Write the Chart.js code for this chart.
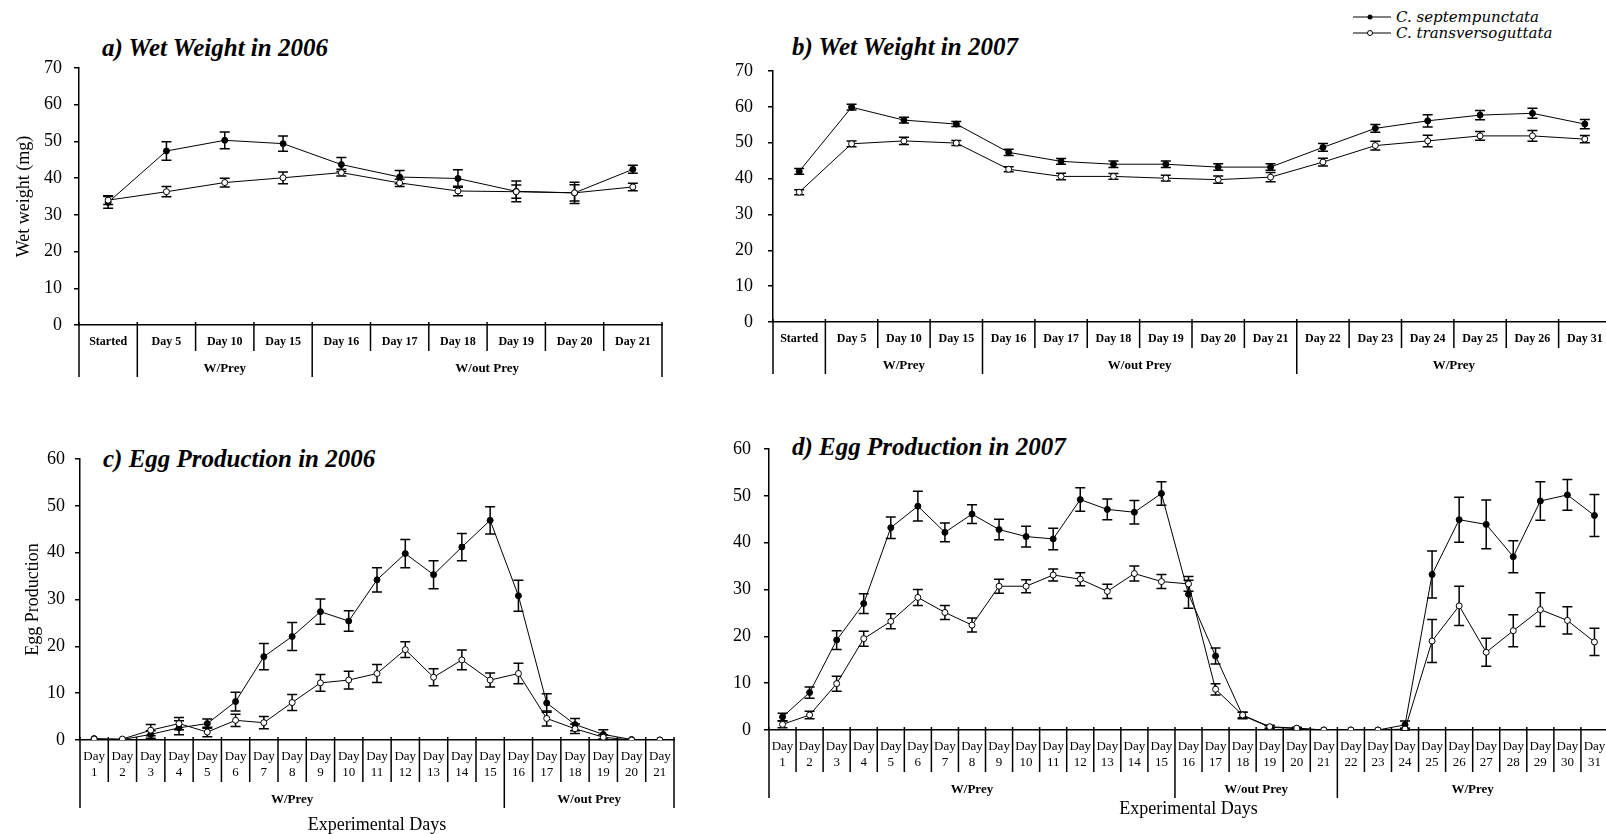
<!DOCTYPE html>
<html>
<head>
<meta charset="utf-8">
<script src="https://cdn.jsdelivr.net/npm/chart.js@4/dist/chart.umd.min.js"></script>
<style>
html, body { margin: 0; padding: 0; background: #fff; overflow: hidden; width: 1606px; height: 834px; }
canvas { position: absolute; }
.title { position: absolute; font: italic bold 25px "Liberation Serif", serif; line-height: 25px; color: #000; white-space: nowrap; }
.leg { position: absolute; left: 1353px; display: flex; align-items: center; gap: 5px; font: italic 15px "DejaVu Serif", serif; line-height: 16px; color: #000; white-space: nowrap; }
.leg svg { display: block; }
</style>
</head>
<body>

<div class="title" style="left:102px;top:35px">a) Wet Weight in 2006</div>
<div class="title" style="left:792px;top:34px">b) Wet Weight in 2007</div>
<div class="title" style="left:103px;top:446px">c) Egg Production in 2006</div>
<div class="title" style="left:792px;top:434px">d) Egg Production in 2007</div>

<div class="leg" style="top:9px">
  <svg width="38" height="10"><line x1="0" y1="5" x2="38" y2="5" stroke="#000" stroke-width="1.2"/><circle cx="17" cy="5" r="2.5" fill="#000"/></svg>
  <span>C. septempunctata</span>
</div>
<div class="leg" style="top:25px">
  <svg width="38" height="10"><line x1="0" y1="5" x2="38" y2="5" stroke="#000" stroke-width="1.2"/><circle cx="17" cy="5" r="2.5" fill="#fff" stroke="#000" stroke-width="1"/></svg>
  <span>C. transversoguttata</span>
</div>

<canvas id="chartA" width="700" height="400" style="left:0;top:0"></canvas>
<canvas id="chartB" width="920" height="400" style="left:700px;top:0"></canvas>
<canvas id="chartC" width="700" height="434" style="left:0;top:400px"></canvas>
<canvas id="chartD" width="920" height="434" style="left:700px;top:400px"></canvas>

<script>
// a) wet weight 2006
const catsA = ['Started', 'Day 5', 'Day 10', 'Day 15', 'Day 16', 'Day 17', 'Day 18', 'Day 19', 'Day 20', 'Day 21'];
const sepA = [33.4, 47.4, 50.3, 49.4, 43.7, 40.3, 39.9, 36.4, 36.0, 42.4];
const sepAErr = [1.6, 2.5, 2.3, 2.1, 1.9, 1.8, 2.4, 2.8, 2.9, 1.1];
const traA = [34.0, 36.3, 38.8, 40.1, 41.5, 38.7, 36.5, 36.3, 36.0, 37.6];
const traAErr = [1.2, 1.4, 1.2, 1.6, 0.9, 1.0, 1.3, 1.8, 2.2, 1.0];
const groupsA = [['', 0, 0], ['W/Prey', 1, 3], ['W/out Prey', 4, 9]];

// b) wet weight 2007
const catsB = ['Started', 'Day 5', 'Day 10', 'Day 15', 'Day 16', 'Day 17', 'Day 18', 'Day 19', 'Day 20', 'Day 21', 'Day 22', 'Day 23', 'Day 24', 'Day 25', 'Day 26', 'Day 31'];
const sepB = [42.0, 59.9, 56.3, 55.2, 47.3, 44.8, 44.0, 44.0, 43.2, 43.2, 48.7, 54.0, 56.1, 57.7, 58.2, 55.2];
const sepBErr = [0.8, 0.8, 0.8, 0.7, 0.9, 0.8, 0.9, 0.9, 0.9, 0.9, 1.1, 1.1, 1.7, 1.3, 1.4, 1.3];
const traB = [36.2, 49.7, 50.5, 49.9, 42.6, 40.6, 40.6, 40.1, 39.7, 40.4, 44.6, 49.2, 50.5, 51.9, 51.9, 51.0];
const traBErr = [0.7, 0.8, 1.0, 0.7, 0.7, 0.9, 0.8, 0.8, 1.0, 1.3, 1.1, 1.2, 1.6, 1.2, 1.5, 1.0];
const groupsB = [['', 0, 0], ['W/Prey', 1, 3], ['W/out Prey', 4, 9], ['W/Prey', 10, 15]];

// c) egg production 2006
const daysC = ['1', '2', '3', '4', '5', '6', '7', '8', '9', '10', '11', '12', '13', '14', '15', '16', '17', '18', '19', '20', '21'];
const sepC = [0.3, 0.1, 1.2, 2.6, 3.5, 8.2, 17.8, 22.1, 27.4, 25.4, 34.2, 39.8, 35.3, 41.2, 46.9, 30.8, 7.9, 3.3, 1.2, 0.1, 0];
const sepCErr = [0, 0, 0.8, 1.5, 1.0, 2.0, 2.8, 3.0, 2.7, 2.2, 2.6, 3.0, 3.0, 2.9, 2.9, 3.3, 2.0, 1.3, 1.0, 0, 0];
const traC = [0.2, 0.2, 2.1, 3.5, 1.7, 4.2, 3.7, 8.0, 12.2, 12.8, 14.2, 19.3, 13.4, 17.1, 12.8, 14.2, 4.6, 2.4, 0.6, 0, 0];
const traCErr = [0, 0, 1.2, 1.3, 1.0, 1.3, 1.3, 1.7, 1.8, 1.9, 1.9, 1.7, 1.8, 2.1, 1.5, 2.2, 1.6, 1.0, 0.5, 0, 0];
const groupsC = [['W/Prey', 0, 14], ['W/out Prey', 15, 20]];

// d) egg production 2007
const daysD = ['1', '2', '3', '4', '5', '6', '7', '8', '9', '10', '11', '12', '13', '14', '15', '16', '17', '18', '19', '20', '21', '22', '23', '24', '25', '26', '27', '28', '29', '30', '31'];
const sepD = [2.8, 8.0, 19.2, 27.0, 43.2, 47.8, 42.2, 46.1, 42.8, 41.3, 40.8, 49.2, 47.1, 46.5, 50.5, 29.0, 15.8, 3.1, 0.6, 0.3, 0, 0, 0, 1.1, 33.2, 44.9, 43.9, 37.0, 48.9, 50.2, 45.8];
const sepDErr = [0.8, 1.2, 2.0, 2.1, 2.3, 3.2, 2.0, 2.0, 2.2, 2.2, 2.3, 2.5, 2.2, 2.5, 2.5, 3.0, 1.7, 0.7, 0.3, 0.2, 0, 0, 0, 0.8, 5.0, 4.8, 5.2, 3.4, 4.1, 3.3, 4.5];
const traD = [1.2, 3.2, 9.9, 19.5, 23.2, 28.3, 25.1, 22.4, 30.7, 30.7, 33.1, 32.2, 29.6, 33.4, 31.7, 31.2, 8.7, 3.2, 0.7, 0.4, 0, 0, 0, 0.2, 19.0, 26.5, 16.6, 21.2, 25.7, 23.4, 18.8];
const traDErr = [0.7, 0.8, 1.6, 1.6, 1.6, 1.7, 1.5, 1.5, 1.5, 1.4, 1.3, 1.4, 1.5, 1.6, 1.5, 1.6, 1.2, 0.6, 0.3, 0.2, 0, 0, 0, 0.2, 4.6, 4.2, 3.0, 3.4, 3.6, 2.9, 2.9];
const groupsD = [['W/Prey', 0, 14], ['W/out Prey', 15, 20], ['W/Prey', 21, 30]];

const SERIF = '"Liberation Serif", "Times New Roman", serif';

// vertical error bars drawn under the markers
const errorBars = {
    id: 'errorBars',
    beforeDatasetsDraw(chart) {
        const ctx = chart.ctx, x = chart.scales.x, y = chart.scales.y;
        ctx.save();
        ctx.strokeStyle = '#000';
        ctx.lineWidth = 1.5;
        chart.data.datasets.forEach(ds => {
            if (!ds.errors) return;
            ds.data.forEach((v, i) => {
                const e = ds.errors[i];
                if (!e) return;
                const px = x.getPixelForValue(i);
                const top = y.getPixelForValue(v + e);
                const bot = y.getPixelForValue(Math.max(v - e, 0));
                ctx.beginPath();
                ctx.moveTo(px, top); ctx.lineTo(px, bot);
                ctx.moveTo(px - 5, top); ctx.lineTo(px + 5, top);
                ctx.moveTo(px - 5, bot); ctx.lineTo(px + 5, bot);
                ctx.stroke();
            });
        });
        ctx.restore();
    }
};

// Excel-style category table under the x axis
const catTable = {
    id: 'catTable',
    afterDraw(chart, args, o) {
        const ctx = chart.ctx, x = chart.scales.x;
        const y0 = chart.scales.y.getPixelForValue(0);
        const n = chart.data.labels.length;
        const half = (x.getPixelForValue(1) - x.getPixelForValue(0)) / 2;
        const starts = o.groups.map(g => g[1]);
        ctx.save();
        ctx.strokeStyle = '#000';
        ctx.lineWidth = 1.5;
        for (let i = 0; i <= n; i++) {
            const bx = i < n ? x.getPixelForValue(i) - half : x.getPixelForValue(n - 1) + half;
            const long = i === 0 || i === n || starts.includes(i);
            ctx.beginPath();
            ctx.moveTo(bx, y0 - 3);
            ctx.lineTo(bx, y0 + (long ? o.groupEnd : o.sepEnd));
            ctx.stroke();
        }
        ctx.fillStyle = '#000';
        ctx.textAlign = 'center';
        ctx.textBaseline = 'middle';
        ctx.font = o.catFont;
        chart.data.labels.forEach((lab, i) => {
            const cx = x.getPixelForValue(i);
            if (o.twoLine) {
                ctx.fillText('Day', cx, y0 + o.labY);
                ctx.fillText(lab, cx, y0 + o.labY2);
            } else {
                ctx.fillText(lab, cx, y0 + o.labY);
            }
        });
        ctx.font = o.groupFont;
        o.groups.forEach(g => {
            if (!g[0]) return;
            const cx = (x.getPixelForValue(g[1]) + x.getPixelForValue(g[2])) / 2;
            ctx.fillText(g[0], cx, y0 + o.groupY);
        });
        if (o.title) {
            ctx.font = '18px ' + SERIF;
            const ca = chart.chartArea;
            ctx.fillText(o.title, (ca.left + ca.right) / 2, y0 + o.titleY);
        }
        ctx.restore();
    }
};

function series(label, data, errors, filled) {
    return {
        label: label,
        data: data,
        errors: errors,
        order: filled ? 1 : 0,   // open circles stay visible where both sit at 0
        borderColor: '#000',
        borderWidth: 1,
        pointRadius: 3,
        pointBorderWidth: 1,
        pointBorderColor: '#000',
        pointBackgroundColor: filled ? '#000' : '#fff',
        tension: 0
    };
}

function makePanel(id, p) {
    return new Chart(document.getElementById(id), {
        type: 'line',
        data: {
            labels: p.labels,
            datasets: [
                series('C. septempunctata', p.sep, p.sepErr, true),
                series('C. transversoguttata', p.tra, p.traErr, false)
            ]
        },
        options: {
            responsive: false,
            animation: false,
            layout: { padding: p.pad },
            scales: {
                x: {
                    type: 'category',
                    offset: true,
                    grid: { display: false },
                    border: { display: true, color: '#000', width: 1.5 },
                    ticks: { display: false },
                    afterFit: s => { s.height = p.xH; }
                },
                y: {
                    min: 0,
                    max: p.yMax,
                    ticks: { stepSize: 10, color: '#000', padding: p.tickPad, font: { family: SERIF, size: 18 } },
                    grid: { drawOnChartArea: false, tickLength: 5, color: '#000', lineWidth: 1.5 },
                    border: { color: '#000', width: 1.5 },
                    title: {
                        display: !!p.yTitle,
                        text: p.yTitle || '',
                        color: '#000',
                        font: { family: SERIF, size: 18 },
                        padding: { top: p.yTitlePad || 0, bottom: 0 }
                    },
                    afterFit: s => { s.width = p.yW; }
                }
            },
            plugins: {
                legend: { display: false },
                tooltip: { enabled: false },
                catTable: p.table
            }
        },
        plugins: [errorBars, catTable]
    });
}

const wetTable = { catFont: 'bold 12px ' + SERIF, groupFont: 'bold 13px ' + SERIF, labY: 17, sepEnd: 26, groupY: 44, groupEnd: 52 };
const eggTable = { twoLine: true, catFont: '13px ' + SERIF, groupFont: 'bold 13px ' + SERIF, labY: 17, labY2: 33, sepEnd: 42, groupY: 60, groupEnd: 68 };

makePanel('chartA', {
    labels: catsA, sep: sepA, sepErr: sepAErr, tra: traA, traErr: traAErr,
    yMax: 70, yW: 79, xH: 60, tickPad: 12,
    pad: { left: 0, top: 68, right: 38, bottom: 15 },
    yTitle: 'Wet weight (mg)', yTitlePad: 13,
    table: Object.assign({ groups: groupsA }, wetTable)
});

makePanel('chartB', {
    labels: catsB, sep: sepB, sepErr: sepBErr, tra: traB, traErr: traBErr,
    yMax: 70, yW: 73, xH: 60, tickPad: 15,
    pad: { left: 0, top: 71, right: 9, bottom: 18 },
    table: Object.assign({ groups: groupsB }, wetTable)
});

makePanel('chartC', {
    labels: daysC, sep: sepC, sepErr: sepCErr, tra: traC, traErr: traCErr,
    yMax: 60, yW: 80, xH: 90, tickPad: 10,
    pad: { left: 0, top: 59, right: 26, bottom: 4 },
    yTitle: 'Egg Production', yTitlePad: 22,
    table: Object.assign({ groups: groupsC, title: 'Experimental Days', titleY: 85 }, eggTable)
});

makePanel('chartD', {
    labels: daysD, sep: sepD, sepErr: sepDErr, tra: traD, traErr: traDErr,
    yMax: 60, yW: 69, xH: 90, tickPad: 13,
    pad: { left: 0, top: 49, right: 12, bottom: 14 },
    table: Object.assign({ groups: groupsD, title: 'Experimental Days', titleY: 79 }, eggTable)
});
</script>
</body>
</html>
